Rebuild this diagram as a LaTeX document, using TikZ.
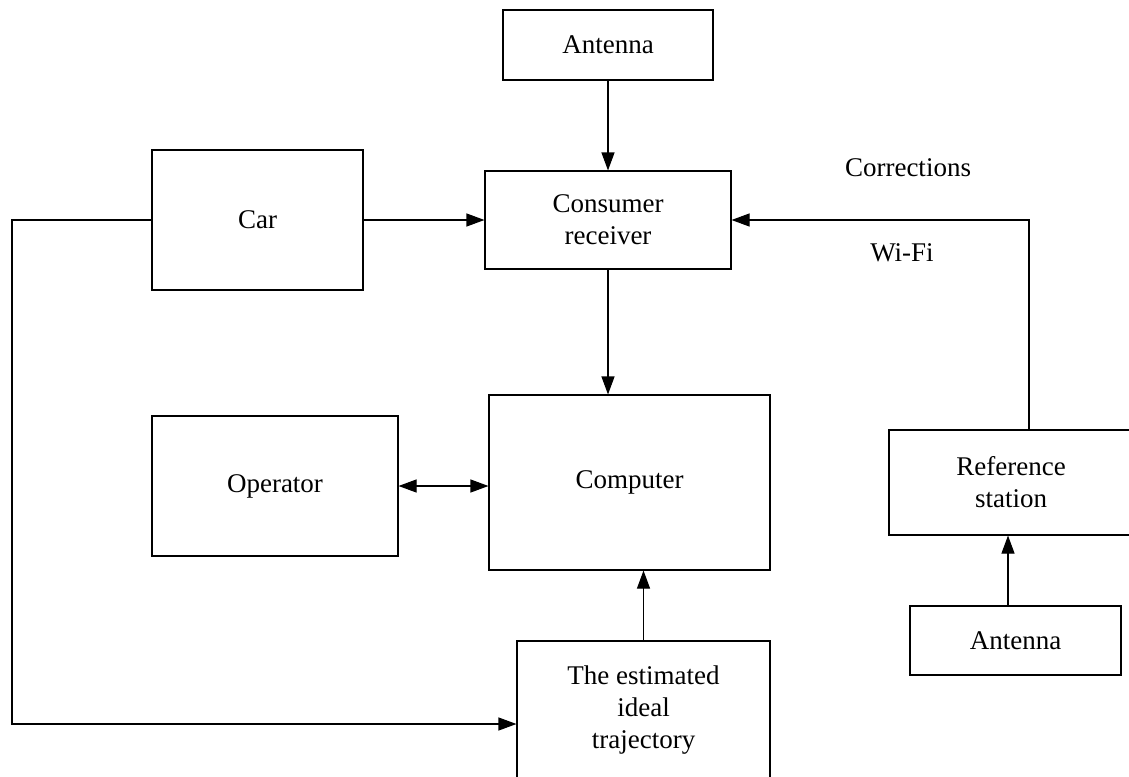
\documentclass[tikz,border=0pt]{standalone}
\usepackage{fontspec}
\setmainfont{Liberation Serif}
\usetikzlibrary{arrows.meta}
\begin{document}
\begin{tikzpicture}[x=1pt,y=-1pt,
  box/.style={draw=black,line width=1.1pt,inner sep=0pt,align=center,font=\fontsize{27}{32}\selectfont},
  lbl/.style={inner sep=0pt,font=\fontsize{27}{32}\selectfont},
  arr/.style={draw=black,line width=1.1pt,-{Triangle[length=18pt,width=13pt]}},
  arrb/.style={draw=black,line width=1.1pt,{Triangle[length=18pt,width=13pt]}-{Triangle[length=18pt,width=13pt]}}]
\clip (0,0) rectangle (1129,776);
\fill[white] (0,0) rectangle (1129,776);
\node[box,minimum width=210pt,minimum height=70pt] (ant1) at (608,45) {Antenna};
\node[box,minimum width=246pt,minimum height=98pt] (cr) at (608,220) {Consumer\\receiver};
\node[box,minimum width=211pt,minimum height=140pt] (car) at (257.5,220) {Car};
\node[box,minimum width=246pt,minimum height=140pt] (op) at (275,486) {Operator};
\node[box,minimum width=281pt,minimum height=175pt] (comp) at (629.5,482.5) {Computer};
\node[box,minimum width=253pt,minimum height=139pt] (traj) at (643.5,710.5) {The estimated\\ideal\\trajectory};
\node[box,minimum width=244pt,minimum height=105pt] (ref) at (1011,482.5) {Reference\\station};
\node[box,minimum width=211pt,minimum height=69pt] (ant2) at (1015.5,640.5) {Antenna};
\node[lbl] (corr) at (908,168) {Corrections};
\node[lbl] (wifi) at (902,253) {Wi-Fi};
\coordinate (c1) at (12,220);
\coordinate (c2) at (12,724);
\coordinate (r1) at (1029,430);
\coordinate (a2) at (1008,606);
\draw[arr] (ant1) -- (cr);
\draw[arr] (car) -- (cr);
\draw[arr] (car.west) -- (c1) -- (c2) -- (c2 -| traj.west);
\draw[arr] (r1) |- (cr.east);
\draw[arr] (cr.south) -- (cr.south |- comp.north);
\draw[arrb] (op.east) -- (op.east -| comp.west);
\draw[arr] (traj.north) -- (traj.north |- comp.south);
\draw[arr] (a2) -- (a2 |- ref.south);
\end{tikzpicture}
\end{document}
